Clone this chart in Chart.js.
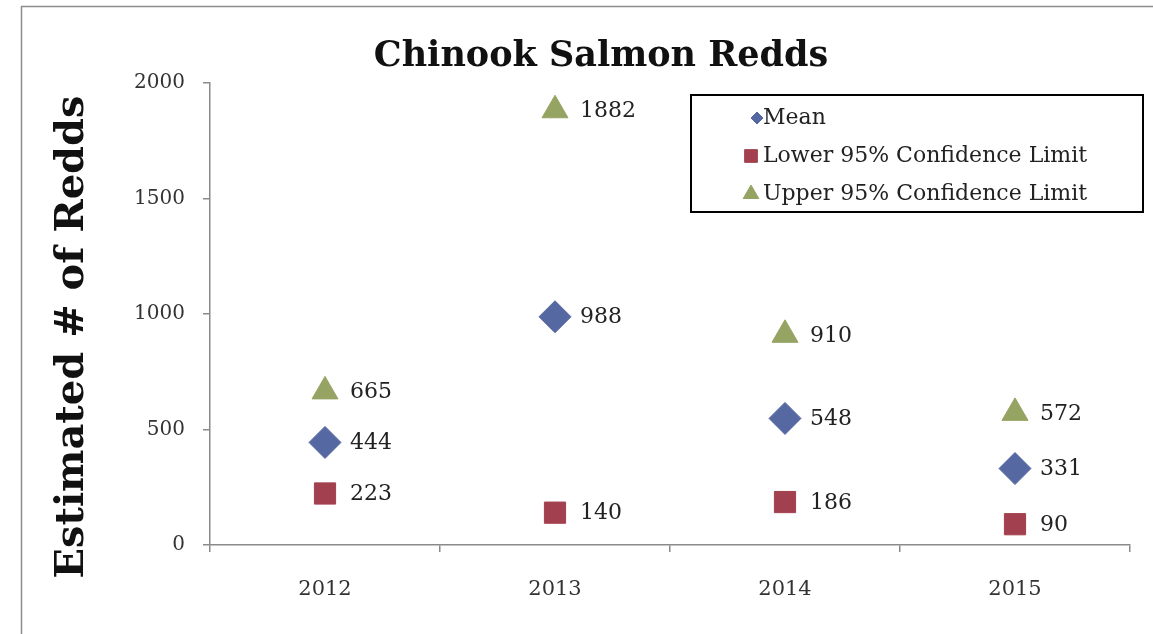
<!DOCTYPE html>
<html lang="en">

<head>
  <meta charset="UTF-8">
  <script src="https://cdn.jsdelivr.net/npm/chart.js"></script>
  <title>Chinook Salmon Redds</title>
  <style>
    body { margin: 0; background: #fff; }
    #grafico { display: block; }
  </style>
</head>

<body>
  <canvas id="grafico" width="1153" height="634"></canvas>

  <script>
    // data per survey year
    const anos = ['2012', '2013', '2014', '2015'];
    const media = [444, 988, 548, 331];
    const limiteInferior = [223, 140, 186, 90];
    const limiteSuperior = [665, 1882, 910, 572];
    const ticksY = [0, 500, 1000, 1500, 2000];

    const fonte = "'DejaVu Serif', 'Liberation Serif', serif";

    // outer frame, title and y axis title, drawn before everything else
    const moldura = {
      id: 'moldura',
      beforeDraw(chart) {
        const ctx = chart.ctx;
        ctx.save();
        ctx.strokeStyle = '#8c8c8c';
        ctx.lineWidth = 1.5;
        ctx.strokeRect(21.5, 6.5, 1300, 800);
        ctx.fillStyle = '#111';
        ctx.font = 'bold 35px ' + fonte;
        ctx.textAlign = 'center';
        ctx.textBaseline = 'middle';
        ctx.fillText('Chinook Salmon Redds', 601, 57);

        ctx.translate(73, 337);
        ctx.rotate(-Math.PI / 2);
        ctx.font = 'bold 40px ' + fonte;
        ctx.fillText('Estimated # of Redds', 0, 0);
        ctx.restore();
      }
    };

    // value labels to the right of each marker
    const rotulos = {
      id: 'rotulos',
      afterDatasetsDraw(chart) {
        const ctx = chart.ctx;
        ctx.save();
        ctx.fillStyle = '#222';
        ctx.font = '22px ' + fonte;
        ctx.textAlign = 'left';
        ctx.textBaseline = 'middle';
        chart.data.datasets.forEach((ds, i) => {
          chart.getDatasetMeta(i).data.forEach((pt, j) => {
            ctx.fillText(ds.data[j], pt.x + 25, pt.y + 1);
          });
        });
        ctx.restore();
      }
    };

    // boxed legend in the top right corner
    const legenda = {
      id: 'legenda',
      afterDraw(chart) {
        const ctx = chart.ctx;
        const x0 = 691, y0 = 95;
        ctx.save();
        ctx.fillStyle = '#fff';
        ctx.fillRect(x0, y0, 452, 117);
        ctx.strokeStyle = '#000';
        ctx.lineWidth = 2;
        ctx.strokeRect(x0, y0, 452, 117);
        const posY = [118, 156, 194];
        const posX = [757, 751, 751];
        const raios = [6, 9, 9];
        chart.data.datasets.forEach((ds, i) => {
          ctx.fillStyle = ds.backgroundColor;
          ctx.strokeStyle = ds.backgroundColor;
          ctx.lineWidth = 1;
          Chart.helpers.drawPoint(ctx, { pointStyle: ds.pointStyle, radius: raios[i], borderWidth: 1 }, posX[i], posY[i]);
          ctx.fillStyle = '#222';
          ctx.font = '22px ' + fonte;
          ctx.textAlign = 'left';
          ctx.textBaseline = 'middle';
          ctx.fillText(ds.label, 763, posY[i]);
        });
        ctx.restore();
      }
    };

    const dados = {
      labels: anos,
      datasets: [{
        label: 'Mean',
        data: media,
        pointStyle: 'rectRot',
        pointRadius: 16,
        backgroundColor: '#5668a2',
        borderColor: '#5668a2'
      }, {
        label: 'Lower 95% Confidence Limit',
        data: limiteInferior,
        pointStyle: 'rect',
        pointRadius: 15,
        backgroundColor: '#a3404f',
        borderColor: '#a3404f'
      }, {
        label: 'Upper 95% Confidence Limit',
        data: limiteSuperior,
        pointStyle: 'triangle',
        pointRadius: 15,
        backgroundColor: '#96a463',
        borderColor: '#96a463'
      }]
    };
    dados.datasets.forEach(ds => { ds.showLine = false; ds.borderWidth = 1; });

    const config = {
      type: 'line',
      data: dados,
      plugins: [moldura, rotulos, legenda],
      options: {
        responsive: false,
        animation: false,
        layout: { padding: { top: 83, right: 23, left: 0, bottom: 0 } },
        plugins: {
          legend: { display: false },
          title: { display: false },
          tooltip: { enabled: false }
        },
        scales: {
          x: {
            offset: true,
            grid: { offset: true, drawOnChartArea: false, tickLength: 7, color: '#8a8a8a', lineWidth: 1.5 },
            border: { color: '#8a8a8a', width: 1.5 },
            ticks: { color: '#333', font: { family: fonte, size: 21 }, padding: 25 },
            afterFit(scale) { scale.height = 89; }
          },
          y: {
            min: 0,
            max: 2000,
            afterBuildTicks(scale) { scale.ticks = ticksY.map(v => ({ value: v })); },
            grid: { drawOnChartArea: false, tickLength: 7, color: '#8a8a8a', lineWidth: 1.5 },
            border: { color: '#8a8a8a', width: 1.5 },
            ticks: {
              color: '#333',
              font: { family: fonte, size: 20 },
              padding: 18,
              callback: v => String(v)
            },
            afterFit(scale) { scale.width = 210; }
          }
        }
      }
    };

    new Chart(document.getElementById('grafico'), config);
  </script>
</body>

</html>
